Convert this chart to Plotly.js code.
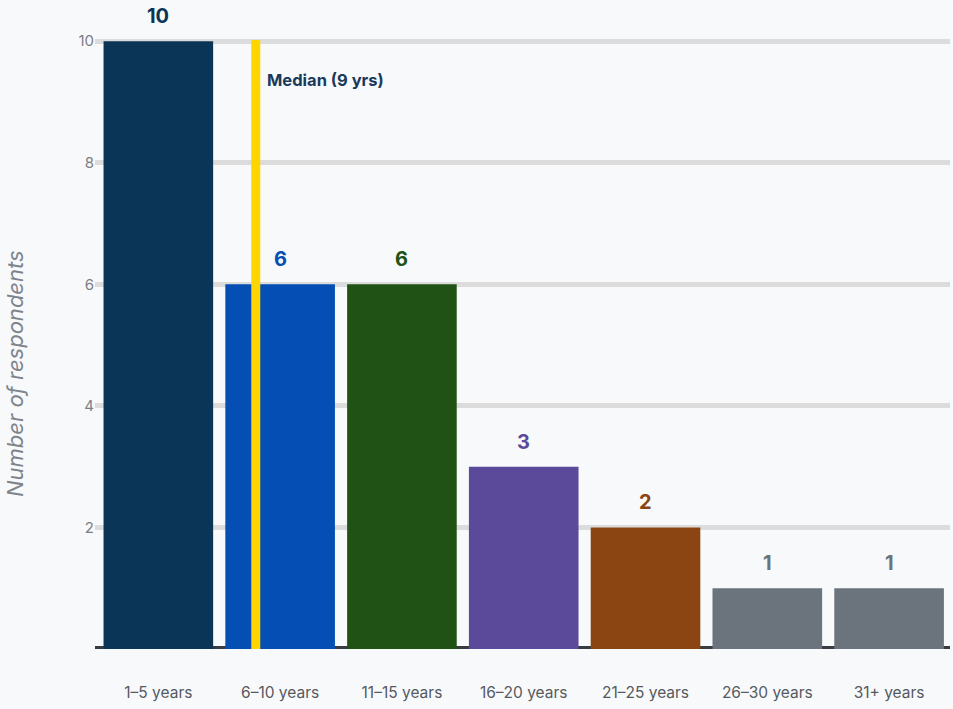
<!DOCTYPE html>
<html>
<head>
<meta charset="utf-8">
<script src="https://cdn.plot.ly/plotly-3.0.1.min.js"></script>
<style>html,body{margin:0;padding:0;background:#f8f9fb;}#chart{width:953px;height:709px;}</style>
</head>
<body>
<div id="chart"></div>
<script>
const categories = ["1–5 years","6–10 years","11–15 years","16–20 years","21–25 years","26–30 years","31+ years"];
const respondents = [10, 6, 6, 3, 2, 1, 1];
const barColors = ["#0b3556","#054fb4","#1f5214","#5b4a9a","#8b4513","#6b737d","#6b737d"];
const yTicks = [2, 4, 6, 8, 10];
const yTitle = "Number of respondents";
const medianLabel = "Median (9 yrs)";
const medianPos = 0.8; // position on category axis for 9 yrs

const font = "Inter, 'Noto Sans', sans-serif";

const trace = {
  type: "bar",
  x: categories.map((c, i) => i),
  y: respondents,
  marker: {color: barColors},
  width: 0.9,
  hoverinfo: "skip"
};

const annotations = respondents.map((v, i) => ({
  x: i, y: v, xref: "x", yref: "y",
  text: String(v), showarrow: false,
  yanchor: "bottom", yshift: 11,
  font: {family: font, size: 20, color: barColors[i], weight: 700}
}));
annotations.push({
  x: medianPos, y: 9.36, xref: "x", yref: "y",
  text: medianLabel, showarrow: false,
  xanchor: "left", yanchor: "middle", xshift: 9,
  font: {family: font, size: 16.5, color: "#1a3a5c", weight: 700}
});
annotations.push({
  x: -0.0936, y: 0.453, xref: "paper", yref: "paper",
  text: yTitle, showarrow: false, textangle: -90,
  xanchor: "center", yanchor: "middle",
  font: {family: font, size: 22, color: "#7d848c", style: "italic"}
});

const layout = {
  width: 953, height: 709,
  paper_bgcolor: "#f8f9fb", plot_bgcolor: "#f8f9fb",
  margin: {l: 95, r: 3, t: 40, b: 60},
  showlegend: false,
  font: {family: font},
  xaxis: {
    tickmode: "array",
    tickvals: categories.map((c, i) => i),
    ticktext: categories,
    range: [-0.52, 6.5],
    showgrid: false, zeroline: false, showline: false,
    ticks: "", ticklabelstandoff: 32,
    tickfont: {family: font, size: 15.5, color: "#555a60"}
  },
  yaxis: {
    range: [0, 10.02],
    tickvals: yTicks,
    showgrid: true, gridcolor: "#dcdcdc", gridwidth: 5,
    zeroline: false, showline: false, ticks: "",
    tickfont: {family: font, size: 15, color: "#7a7f85"}
  },
  shapes: [
    {type: "line", xref: "paper", x0: 0, x1: 1, yref: "y", y0: 0, y1: 0,
     line: {color: "#373c43", width: 6}, layer: "below"},
    {type: "line", xref: "x", x0: medianPos, x1: medianPos, yref: "y", y0: 0, y1: 10.03,
     line: {color: "#ffd500", width: 9}, layer: "above"}
  ],
  annotations: annotations
};

Plotly.newPlot("chart", [trace], layout, {displayModeBar: false, staticPlot: true});
</script>
</body>
</html>
